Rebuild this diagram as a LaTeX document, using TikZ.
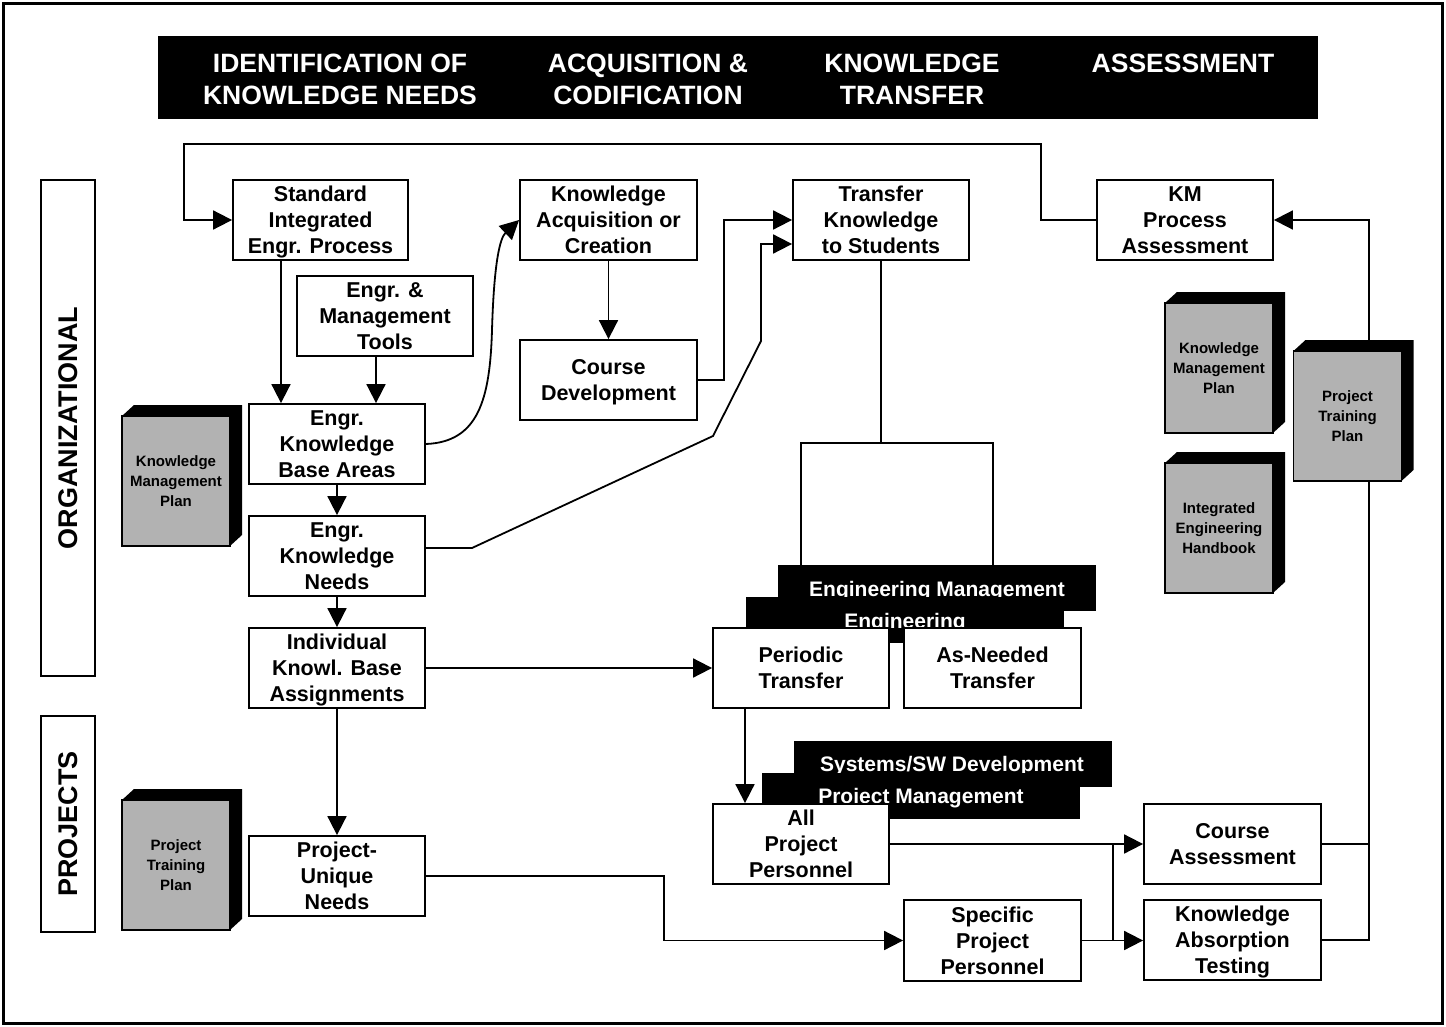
\documentclass[tikz,border=0pt]{standalone}
\usepackage{fontspec}
\setmainfont{Liberation Sans}
\usetikzlibrary{arrows.meta}
\definecolor{bookgray}{RGB}{178,178,178}
\newcommand\kbook[4]{%
  \fill (#2-54,#3-65) -- (#2-42,#3-76) -- (#2+66,#3-76) -- (#2+66,#3+54) -- (#2+54,#3+65) -- cycle;
  \node[book] (#1) at (#2,#3) {#4};}
\begin{document}
\begin{tikzpicture}[x=1pt,y=-1pt,
  line width=1.8pt,
  box/.style={draw, fill=white, line width=1.8pt, minimum width=176pt, minimum height=80pt,
    align=center, inner sep=0pt, text depth=0pt, font=\bfseries\fontsize{21.5}{26}\selectfont},
  book/.style={draw, fill=bookgray, line width=1.4pt, minimum width=108pt, minimum height=130pt,
    align=center, inner sep=0pt, font=\bfseries\fontsize{15}{20}\selectfont},
  bar/.style={fill=black, minimum width=318pt, minimum height=46pt, inner sep=0pt},
  bartext/.style={text=white, inner sep=0pt, font=\bfseries\fontsize{21}{24}\selectfont},
  hdrtext/.style={text=white, align=center, inner sep=0pt, font=\bfseries\fontsize{26.5}{32}\selectfont},
  sidebox/.style={draw, line width=1.8pt, rotate=90, minimum height=54pt, inner sep=0pt,
    font=\bfseries\fontsize{27}{30}\selectfont},
  arr/.style={-{Triangle[length=19pt,width=19pt]}}
]
\useasboundingbox (0,0) rectangle (1446,1027);
\draw[line width=3pt] (3.5,3.5) rectangle (1442.5,1023.5);

% header
\node[fill=black, minimum width=1160pt, minimum height=83pt, inner sep=0pt] (hdr) at (738,77.5) {};
\node[hdrtext] (h1) at (340,79) {IDENTIFICATION OF\\KNOWLEDGE NEEDS};
\node[hdrtext] (h2) at (648,79) {ACQUISITION \&\\CODIFICATION};
\node[hdrtext] (h3) at (912,79) {KNOWLEDGE\\TRANSFER};
\node[hdrtext] (h4) at (1183,63) {ASSESSMENT};

% side labels
\node[sidebox, minimum width=496pt] (org) at (68,428) {ORGANIZATIONAL};
\node[sidebox, minimum width=216pt] (proj) at (68,824) {PROJECTS};

% boxes
\node[box, minimum width=175pt] (siep) at (320.5,220) {Standard\\Integrated\\Engr. Process};
\node[box] (tools) at (385,316) {Engr. \&\\Management\\Tools};
\node[box] (ekba) at (337,444) {Engr.\\Knowledge\\Base Areas};
\node[box] (ekn) at (337,556) {Engr.\\Knowledge\\Needs};
\node[box] (ikba) at (337,668) {Individual\\Knowl. Base\\Assignments};
\node[box] (pun) at (337,876) {Project-\\Unique\\Needs};
\node[box, minimum width=177pt] (kac) at (608.5,220) {Knowledge\\Acquisition or\\Creation};
\node[box, minimum width=177pt] (cd) at (608.5,380) {Course\\Development};
\node[box] (tks) at (881,220) {Transfer\\Knowledge\\to Students};
\node[box] (kmpa) at (1185,220) {KM\\Process\\Assessment};
\node[box, minimum width=177pt] (ca) at (1232.5,844) {Course\\Assessment};
\node[box, minimum width=177pt] (kat) at (1232.5,940) {Knowledge\\Absorption\\Testing};
\node[box, minimum width=177pt, minimum height=81pt] (spp) at (992.5,940.5) {Specific\\Project\\Personnel};

% transfer group
\node[draw, line width=1.8pt, minimum width=192pt, minimum height=157pt, inner sep=0pt] (grp) at (897,521.5) {};
\draw (tks.south) -- (tks.south |- grp.north);
\node[bar] (embar) at (937,588) {};
\node[bartext, anchor=base] (emtext) at (937,596) {Engineering Management};
\node[bar] (engbar) at (905,620) {};
\node[bartext, anchor=base] (engtext) at (905,628) {Engineering};
\node[box] (pt) at (801,668) {Periodic\\Transfer};
\node[box, minimum width=177pt] (ant) at (992.5,668) {As-Needed\\Transfer};

\node[bar] (swbar) at (953,763.5) {};
\node[bartext, anchor=base] (swtext) at (952,771) {Systems/SW Development};
\node[bar] (pmbar) at (921,796) {};
\node[bartext, anchor=base] (pmtext) at (921,803) {Project Management};
\node[box] (app) at (801,844) {All\\Project\\Personnel};

% connectors
\draw[arr] (kmpa.west) -| (1041,144) -| (184,220) -- (siep.west);
\draw[arr] (ca.east) -- (1369,844) |- (kmpa.east);
\draw (kat.east) -| (1369,844);
\draw[arr] (app.east) -- (ca.west);
\draw[arr] (spp.east) -- (kat.west |- spp.east);
\draw (1113,844) -- (1113,940.5);
\draw[arr] (pun.east) -- (664,876) |- (spp.west);
\draw[arr] (ikba.east) -- (pt.west);
\draw[arr] ([xshift=-56pt]pt.south) -- ([xshift=-56pt]app.north);
\draw[arr] (kac.south) -- (cd.north);
\draw[arr] (cd.east) -- (724,380) |- (tks.west);
\draw[arr] ([yshift=8pt]ekn.east) -- (472,548) -- (713,436) -- (761,341) |- ([yshift=-24pt]tks.west);
\draw[arr] (ekba.east) .. controls (478,442) and (490,400) .. (492,330) .. controls (494,262) and (500,238) .. (kac.west);
\draw[arr] ([xshift=-39.5pt]siep.south) -- ([xshift=-56pt]ekba.north);
\draw[arr] ([xshift=-9pt]tools.south) -- ([xshift=39pt]ekba.north);
\draw[arr] (ekba.south) -- (ekn.north);
\draw[arr] (ekn.south) -- (ikba.north);
\draw[arr] (ikba.south) -- (pun.north);

% books
\kbook{kmpL}{176}{481}{Knowledge\\Management\\Plan}
\kbook{ptpL}{176}{865}{Project\\Training\\Plan}
\kbook{kmpR}{1219}{368}{Knowledge\\Management\\Plan}
\kbook{ieh}{1219}{528}{Integrated\\Engineering\\Handbook}
\kbook{ptpR}{1347.5}{416}{Project\\Training\\Plan}
\end{tikzpicture}
\end{document}
